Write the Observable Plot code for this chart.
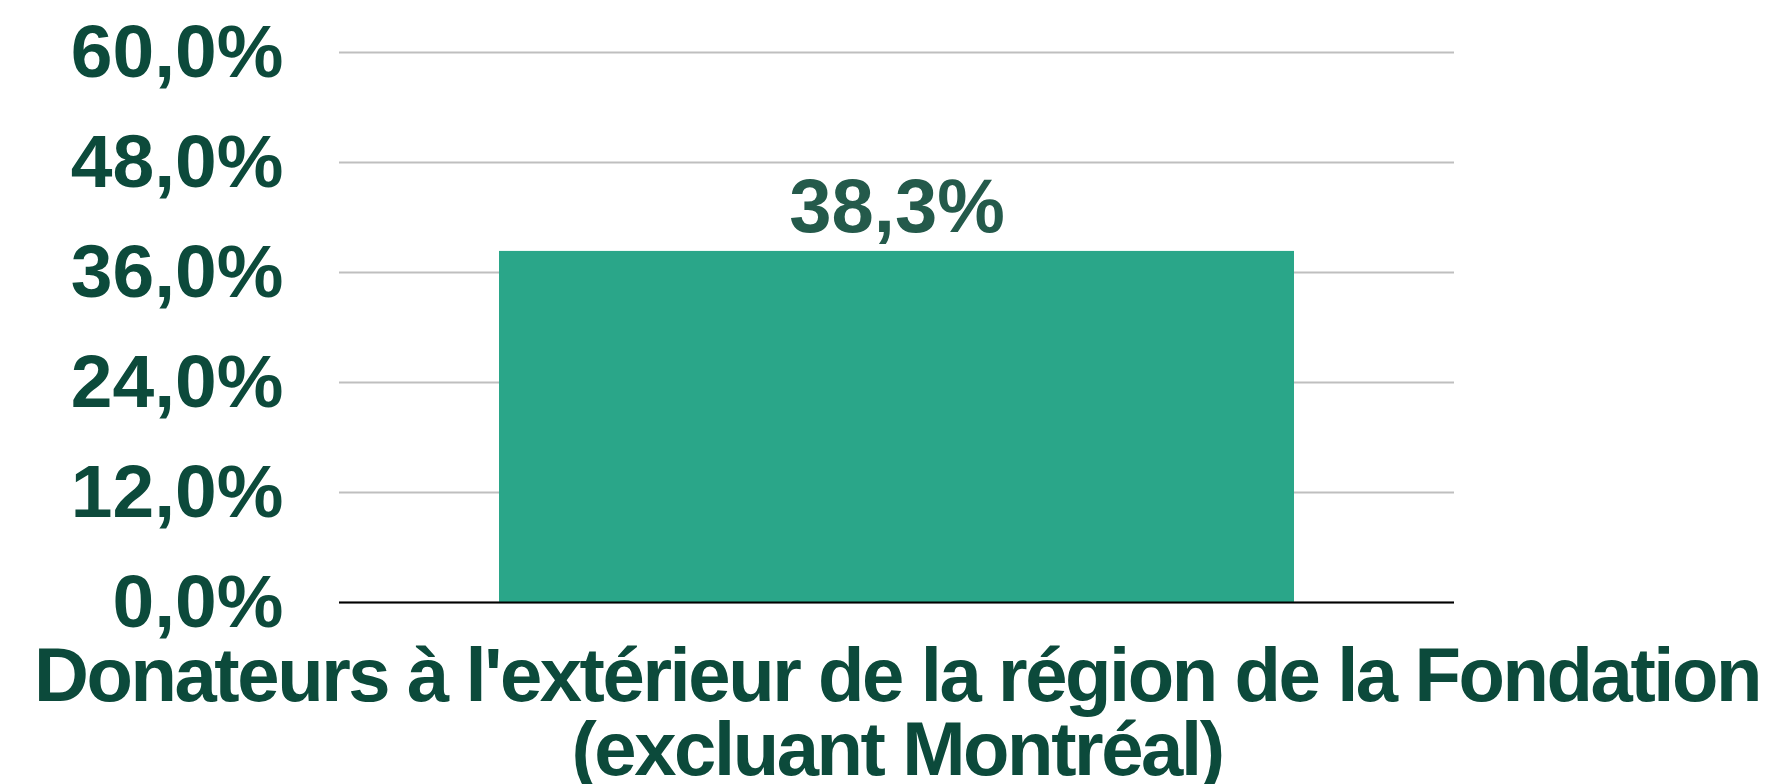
<!DOCTYPE html>
<html>
<head>
<meta charset="utf-8">
<script src="https://cdn.jsdelivr.net/npm/d3@7"></script>
<script src="https://cdn.jsdelivr.net/npm/@observablehq/plot@0.6"></script>
<style>
  html, body { margin: 0; padding: 0; background: #ffffff; }
  #chart svg g[aria-label="x-axis tick label"] text { letter-spacing: -2.4px; }
</style>
</head>
<body>
<div id="chart"></div>
<script>
const categories = ["Donateurs à l'extérieur de la région de la Fondation\n(excluant Montréal)"];
const values = [38.3];
const yTicks = [0, 12, 24, 36, 48, 60];

const data = categories.map((c, i) => ({category: c, value: values[i]}));
const fmt = d => d.toFixed(1).replace(".", ",") + "%";

const chart = Plot.plot({
  width: 1773,
  height: 784,
  marginLeft: 339,
  marginRight: 319,
  marginTop: 52,
  marginBottom: 182,
  style: {
    fontFamily: "'Liberation Sans', Arial, sans-serif",
    fontWeight: "bold",
    background: "#ffffff"
  },
  x: {domain: categories, padding: 0.1675, label: null},
  y: {domain: [0, 60], label: null},
  marks: [
    Plot.gridY(yTicks, {stroke: "#bfbfbf", strokeOpacity: 1, strokeWidth: 2}),
    Plot.barY(data, {x: "category", y: "value", fill: "#2aa689"}),
    Plot.ruleY([0], {stroke: "#000000", strokeWidth: 2}),
    Plot.text(data, {
      x: "category", y: "value", text: d => fmt(d.value),
      lineAnchor: "bottom", dy: -19, fontSize: 76, fontWeight: "bold", fill: "#245a4b"
    }),
    Plot.axisY(yTicks, {
      tickSize: 0, tickPadding: 56, tickFormat: fmt,
      fontSize: 75, fontWeight: "bold", fill: "#0c4a3b", label: null
    }),
    Plot.axisX({
      tickSize: 0, tickPadding: 46, fontSize: 76, lineHeight: 0.97, fontWeight: "bold",
      fill: "#0c4a3b", label: null, lineWidth: 1000, textOverflow: null
    })
  ]
});
document.getElementById("chart").appendChild(chart);
</script>
</body>
</html>
